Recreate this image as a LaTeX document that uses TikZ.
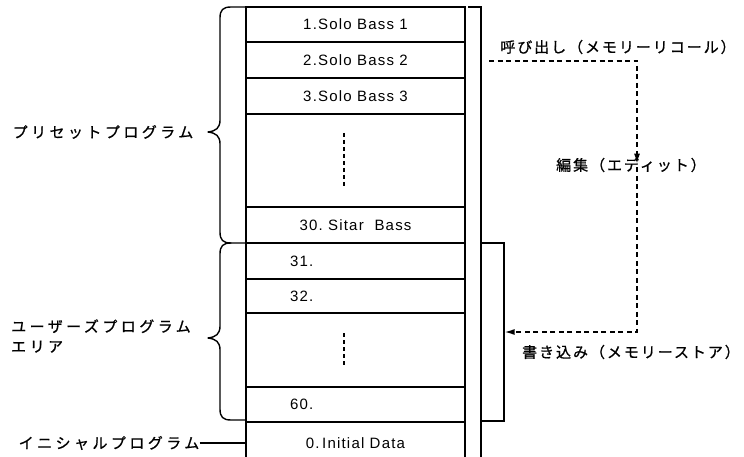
\documentclass[tikz,border=0pt]{standalone}
\usepackage{fontspec}
\setmainfont{Liberation Sans}
\newfontfamily\boxfont[LetterSpace=8]{Liberation Sans}
\newfontfamily\jpwide[LetterSpace=23,FakeBold=0.8]{Noto Sans CJK JP}
\newfontfamily\jpnarrow[LetterSpace=13,FakeBold=0.8]{Noto Sans CJK JP}
\usetikzlibrary{arrows.meta}

\begin{document}
\begin{tikzpicture}[x=1pt,y=-1pt,
  row/.style={draw, line width=1.3pt, minimum width=219pt, inner sep=0pt,
              font=\boxfont\fontsize{15}{18}\selectfont},
  leftrow/.style={row, text width=131pt, inner xsep=44pt, align=left},
  lbl/.style={inner sep=0pt, font=\jpwide\fontsize{15}{18}\selectfont},
  rlbl/.style={inner sep=0pt, font=\jpnarrow\fontsize{15}{18}\selectfont},
  rim/.style={line width=1.3pt},
  skip/.style={line width=1.2pt, dash pattern=on 4pt off 3pt},
  flow/.style={line width=1.4pt, dash pattern=on 5pt off 3.5pt,
               -{Latex[length=10pt,width=6pt]}},
  brace/.style={line width=1.4pt, line cap=round, line join=round}]
\useasboundingbox (0,0) rectangle (744,457);

% memory rows
\node[row, minimum height=35pt] (r1) at (355.5,24.5) {1.Solo Bass 1};
\node[row, minimum height=36pt] (r2) at (355.5,60) {2.Solo Bass 2};
\node[row, minimum height=36pt] (r3) at (355.5,96) {3.Solo Bass 3};
\node[row, minimum height=93pt] (rp) at (355.5,160.5) {};
\node[row, minimum height=36pt] (r30) at (355.5,225) {30.\ Sitar\ \ Bass};
\node[leftrow, minimum height=36pt] (r31) at (355.5,261) {31.};
\node[leftrow, minimum height=34pt] (r32) at (355.5,296) {32.};
\node[row, minimum height=74pt] (ru) at (355.5,350) {};
\node[leftrow, minimum height=35pt] (r60) at (355.5,404.5) {60.};
\node[row, minimum height=42pt] (r0) at (355.5,443) {0.\,Initial\ Data};

% omitted entries
\draw[skip] (344,133) -- (344,186);
\draw[skip] (344,333) -- (344,366);

% right-hand bracket and the user area block
\draw[rim] (468,7) -- (481,7) -- (481,462);
\node[draw, rim, minimum width=23pt, minimum height=178pt, inner sep=0pt]
  (store) at (492.5,332) {};

% braces
\draw[brace] (245,7) -- (231,7) .. controls (223,7) and (220,10) .. (220,18)
  -- (220,120) .. controls (220,128) and (216,131) .. (208,132)
  .. controls (216,133) and (220,136) .. (220,144)
  -- (220,232) .. controls (220,240) and (223,243) .. (231,243) -- (245,243);
\draw[brace] (231,243) .. controls (223,243) and (220,246) .. (220,254)
  -- (220,326) .. controls (220,334) and (216,337) .. (208,338)
  .. controls (216,339) and (220,342) .. (220,350)
  -- (220,409) .. controls (220,417) and (223,420) .. (231,420) -- (245,420);

% left labels
\node[lbl] (preset) at (103,132) {プリセットプログラム};
\node[lbl, align=left, anchor=west] (user) at (11,336)
  {ユーザーズプログラム\\[2pt]エリア};
\node[lbl] (initlbl) at (109,443) {イニシャルプログラム};
\draw[rim] (initlbl.east) -- (r0.west |- initlbl);

% recall / edit / store
\coordinate (col) at (637,0);
\coordinate (callfrom) at (489,61);
\node[rlbl] (call) at (618,47) {呼び出し（メモリーリコール）};
\node[rlbl] (edit) at (631,165) {編集（エディット）};
\node[rlbl] (storelbl) at (631,352) {書き込み（メモリーストア）};
\draw[flow] (callfrom) -- (callfrom -| col) -- ([yshift=-6pt]col |- edit.north);
\draw[flow] ([yshift=5pt]col |- edit.south) -- (col |- store.east) -- (store.east);
\end{tikzpicture}
\end{document}
